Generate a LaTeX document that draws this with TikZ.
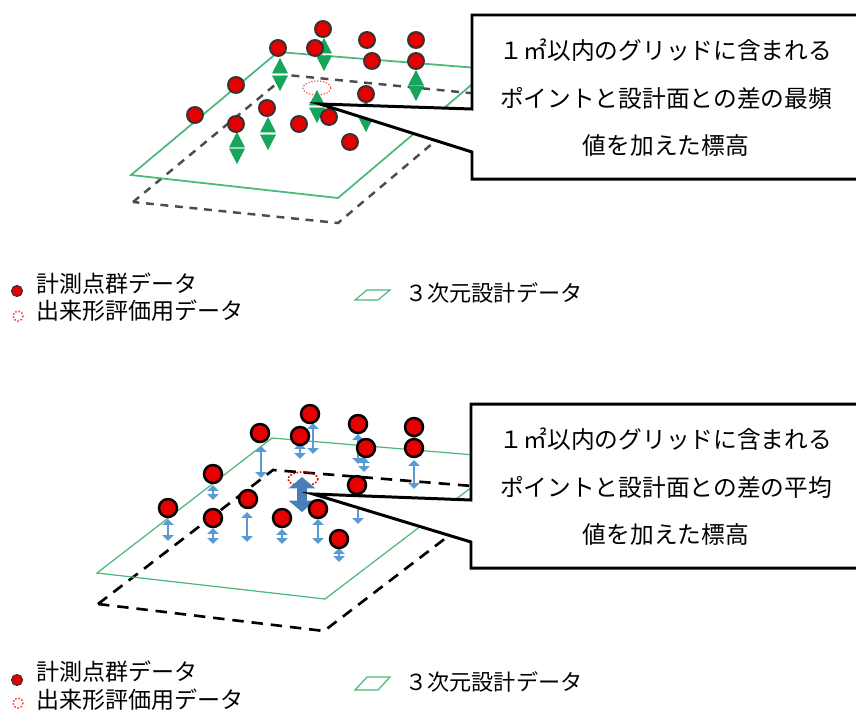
\documentclass[tikz,border=0pt]{standalone}
\usepackage{fontspec}
\newfontfamily\cjk{Noto Sans CJK JP}
\usetikzlibrary{arrows.meta}

\definecolor{planegreen}{HTML}{4CB97A}
\definecolor{arrowgreen}{HTML}{17A55C}
\definecolor{arrowblue}{HTML}{5B9BD5}
\definecolor{arrowdark}{HTML}{4A7EBB}
\definecolor{dotred}{HTML}{E60000}

\tikzset{
    reddot/.style={fill=dotred, draw=black!80, line width=1.1pt},
    plane/.style={draw=planegreen, line width=1pt},
    design/.style={draw=black!70, line width=1.4pt, dash pattern=on 4.5pt off 3.8pt},
    modeoval/.style={draw=red!70, densely dotted, line width=0.7pt},
    greenarrow/.style={white, line width=0.4pt,
        {Triangle[length=8.8pt,width=9pt,color=arrowgreen,fill=arrowgreen]}-{Triangle[length=8.8pt,width=9pt,color=arrowgreen,fill=arrowgreen]}},
    bluearrow/.style={arrowblue, line width=1.5pt,
        {Triangle[length=3.4pt,width=6.5pt]}-{Triangle[length=3.4pt,width=6.5pt]}},
    callout/.style={draw=black, fill=white, line width=1.7pt},
    notetext/.style={font=\cjk\fontsize{13.5}{27}\selectfont, align=center},
    legendtext/.style={font=\cjk\fontsize{13.1}{15}\selectfont, anchor=west, inner sep=0pt},
}

\begin{document}
\begin{tikzpicture}[x=0.02cm, y=-0.02cm]

    \useasboundingbox (0,0) rectangle (856,711);

    %% Upper diagram

    % Design surfaces
    \draw[design] (133,202) -- (287,75) -- (490,95) -- (338,223) -- cycle;
    \draw[plane] (131,175) -- (278,52) -- (490,69) -- (338,198) -- cycle;
    \draw[modeoval] (317,88) ellipse (14 and 7);

    % Differences
    \foreach \x/\ya/\yb in {280/58/91, 324/38/71, 416/70/101, 317/90/123, 366/100/132, 268/117/150, 237/132/164}
        \draw[greenarrow] (\x,\ya) -- (\x,\yb);

    % Point cloud
    \foreach \x/\y in {323/29, 315/48, 367/40, 416/40, 278/48, 372/61, 416/61, 236/85, 366/94, 195/115, 267/108, 236/124, 299/124, 329/117, 350/142}
        \draw[reddot] (\x,\y) circle (8);

    % Callout
    \draw[callout] (856,15) -- (472,15) -- (472,109) -- (320,104) -- (472,152) -- (472,179) -- (856,179);
    \node[notetext] (noteA) at (666,98) {１㎡以内のグリッドに含まれる\\ポイントと設計面との差の最頻\\値を加えた標高};

    % Legend
    \draw[reddot, line width=0.6pt] (17,291) circle (5.5);
    \draw[modeoval, line width=0.9pt] (18,316) circle (5);
    \draw[plane, line width=0.7pt] (355,300) -- (367,290) -- (390,290) -- (378,300) -- cycle;
    \node[legendtext] (cloudA) at (36,284) {計測点群データ};
    \node[legendtext] (evalA) at (36,311) {出来形評価用データ};
    \node[legendtext, font=\cjk\fontsize{12.6}{15}\selectfont] (designA) at (405,293) {３次元設計データ};

    %% Lower diagram

    % Design surfaces
    \draw[design, black, line width=1.5pt, dash pattern=on 6.5pt off 4.5pt] (98,604) -- (273,470) -- (510,489) -- (324,631) -- cycle;
    \draw[plane, line width=0.7pt] (97,573) -- (272,438) -- (510,458) -- (325,599) -- cycle;
    \draw[modeoval, red!85!black, line width=0.9pt] (303,479) ellipse (15 and 7);

    % Differences
    \foreach \x/\ya/\yb in {313/423/454, 300/443/459, 358/434/464, 364/457/472, 414/436/446, 414/460/489, 261/446/478, 213/485/500, 358/490/524, 168/519/541, 247/512/542, 213/528/544, 282/529/544, 318/519/544, 339/548/562}
        \draw[bluearrow] (\x,\ya) -- (\x,\yb);
    \draw[arrowdark, line width=5.5pt, {Triangle[length=6.5pt,width=15pt]}-{Triangle[length=6.5pt,width=15pt]}] (302,477) -- (302,512);

    % Point cloud
    \foreach \x/\y in {310/414, 300/436, 358/424, 414/427, 260/433, 366/448, 414/448, 213/474, 357/485, 168/508, 248/499, 213/518, 282/518, 318/509, 339/539}
        \draw[reddot, draw=black, line width=1.4pt] (\x,\y) circle (9);

    % Callout
    \draw[callout] (856,404) -- (471,404) -- (471,500) -- (313,494) -- (471,542) -- (471,568) -- (856,568);
    \node[notetext] (noteB) at (666,487) {１㎡以内のグリッドに含まれる\\ポイントと設計面との差の平均\\値を加えた標高};

    % Legend
    \draw[reddot, line width=0.6pt] (17,680) circle (5.5);
    \draw[modeoval, line width=0.9pt] (18,703) circle (5);
    \draw[plane, line width=0.7pt] (355,690) -- (367,677) -- (390,677) -- (378,690) -- cycle;
    \node[legendtext] (cloudB) at (36,672) {計測点群データ};
    \node[legendtext] (evalB) at (36,700) {出来形評価用データ};
    \node[legendtext, font=\cjk\fontsize{12.6}{15}\selectfont] (designB) at (405,682) {３次元設計データ};

\end{tikzpicture}
\end{document}
